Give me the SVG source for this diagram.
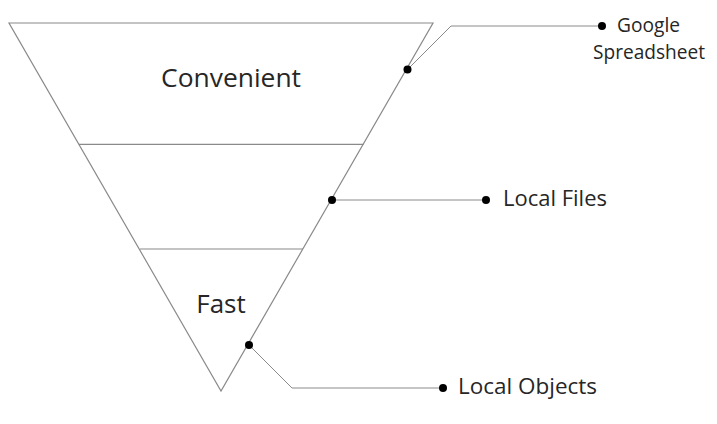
<svg xmlns="http://www.w3.org/2000/svg" width="717" height="424" viewBox="0 0 717 424">
<style>
.edge{fill:none;stroke:#8a8a8a;stroke-width:1.2}
.lead{fill:none;stroke:#8a8a8a;stroke-width:1}
.dot{fill:#000}
.big{font-family:"Open Sans","Noto Sans",sans-serif;font-size:26px;fill:#262626}
.lbl{font-family:"Open Sans","Noto Sans",sans-serif;font-size:22px;fill:#262626}
.sm{font-family:"Open Sans","Noto Sans",sans-serif;font-size:20px;fill:#262626}
</style>
<rect width="717" height="424" fill="#fff"/>
<g id="funnel">
<polygon class="edge" points="9,23 433,23 221,391"/>
<line class="edge" x1="79" y1="144.3" x2="363.5" y2="144.3"/>
<line class="edge" x1="140" y1="249" x2="303" y2="249"/>
</g>
<g id="convenient"><text class="big" x="231" y="87" text-anchor="middle" textLength="140" lengthAdjust="spacingAndGlyphs">Convenient</text></g>
<g id="fast"><text class="big" x="221" y="313" text-anchor="middle">Fast</text></g>
<g id="connectors">
<polyline class="lead" points="407,70 451,26 602,26"/>
<line class="lead" x1="332" y1="200" x2="486" y2="200"/>
<polyline class="lead" points="249,345 292,388 443,388"/>
<circle class="dot" cx="407.5" cy="69.5" r="4"/>
<circle class="dot" cx="602" cy="26" r="4"/>
<circle class="dot" cx="332" cy="200" r="4"/>
<circle class="dot" cx="486" cy="200" r="4"/>
<circle class="dot" cx="249" cy="345" r="4"/>
<circle class="dot" cx="443" cy="388" r="4"/>
</g>
<g id="google"><text class="sm" x="617" y="32" textLength="63" lengthAdjust="spacingAndGlyphs">Google</text><text class="sm" x="593" y="59" textLength="112" lengthAdjust="spacingAndGlyphs">Spreadsheet</text></g>
<g id="localfiles"><text class="lbl" x="503" y="206" textLength="104" lengthAdjust="spacingAndGlyphs">Local Files</text></g>
<g id="localobjects"><text class="lbl" x="458" y="394" textLength="139" lengthAdjust="spacingAndGlyphs">Local Objects</text></g>
</svg>
